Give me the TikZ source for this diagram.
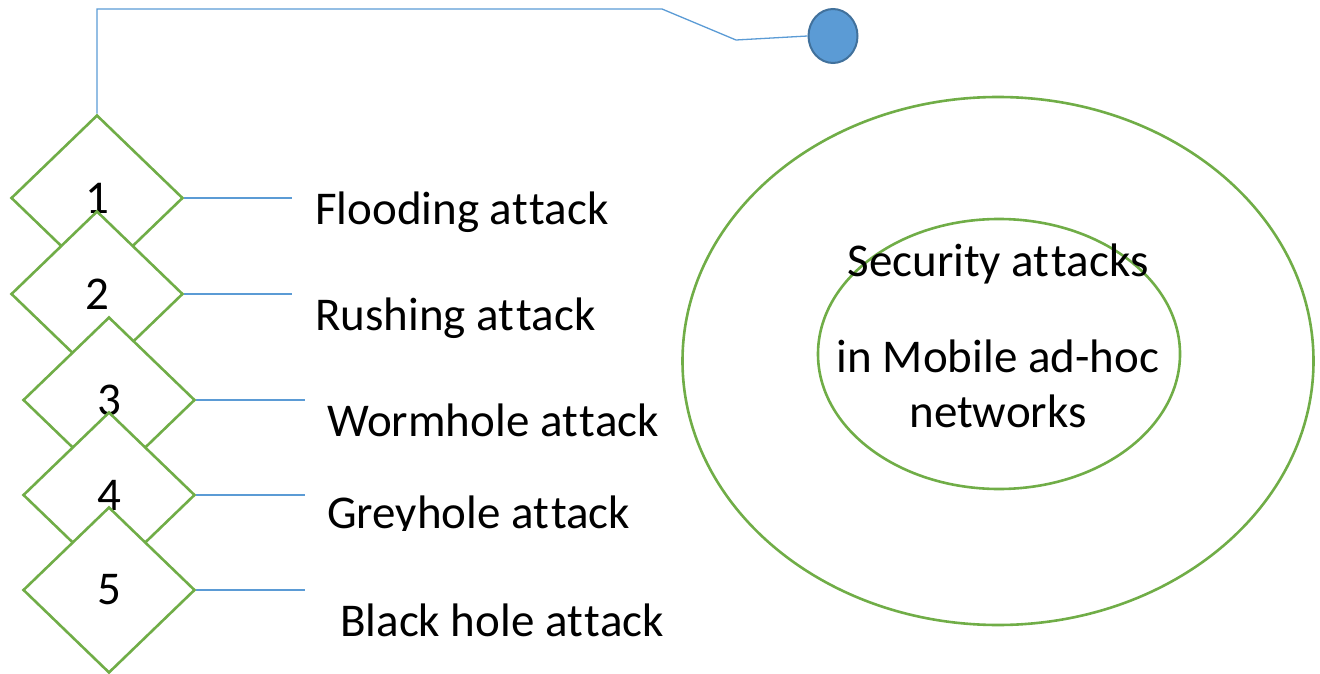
\documentclass[tikz,border=0pt]{standalone}
\usepackage{fontspec}
\setmainfont{Carlito}[Ligatures={NoCommon}]
\newcommand{\nolig}{\kern2pt }
\usetikzlibrary{shapes.geometric}
\definecolor{ogreen}{HTML}{70AD47}
\definecolor{oblue}{HTML}{5B9BD5}
\definecolor{odblue}{HTML}{41719C}
\tikzset{
  dia/.style={shape=diamond, draw=ogreen, line width=2.6pt, fill=white, minimum width=172pt, minimum height=166pt, inner sep=0pt, font=\fontsize{47}{56}\selectfont},
  conn/.style={draw=oblue, line width=1.3pt},
  lbl/.style={anchor=base west, inner sep=0pt, font=\fontsize{47}{56}\selectfont},
  ring/.style={shape=ellipse, draw=ogreen, line width=2.6pt, inner sep=0pt},
}
\begin{document}
\begin{tikzpicture}[x=1pt,y=-1pt]
\useasboundingbox (0,0) rectangle (1320,674);
% top connector and dot
\node[shape=ellipse, draw=odblue, fill=oblue, line width=2pt, minimum width=49pt, minimum height=54pt, inner sep=0pt] (dot) at (833,36) {};
\coordinate (c1) at (97,9);
\coordinate (c2) at (662,9);
\coordinate (c3) at (736,40);
% rings
\node[ring, minimum width=631pt, minimum height=528pt] (outer) at (998,361) {};
\node[ring, minimum width=362pt, minimum height=270pt] (inner) at (999,354) {};
\node[anchor=base, inner sep=0pt, font=\fontsize{47}{56}\selectfont] (t1) at (998,276) {Security at\nolig tacks};
\node[anchor=base, inner sep=0pt, font=\fontsize{47}{56}\selectfont] (t2) at (998,372) {in Mobile ad-hoc};
\node[anchor=base, inner sep=0pt, font=\fontsize{47}{56}\selectfont] (t3) at (998,427) {networks};
% diamonds
\node[dia] (d1) at (97,198) {1};
\node[dia] (d2) at (97,294) {2};
\node[dia] (d3) at (109,400) {3};
\node[dia] (d4) at (109,495) {4};
\node[dia] (d5) at (109,590) {5};
\draw[conn] (d1.north) -- (c1) -- (c2) -- (c3) -- (dot.west);
\coordinate (e1) at (292,198);
\coordinate (e2) at (292,294);
\coordinate (e3) at (305,400);
\coordinate (e4) at (305,495);
\coordinate (e5) at (305,590);
\draw[conn] (d1.east) -- (e1);
\draw[conn] (d2.east) -- (e2);
\draw[conn] (d3.east) -- (e3);
\draw[conn] (d4.east) -- (e4);
\draw[conn] (d5.east) -- (e5);
\node[lbl] (l1) at (315,224) {Flooding at\nolig tack};
\node[lbl] (l2) at (315,330) {Rushing at\nolig tack};
\node[lbl] (l3) at (327,436) {Wormhole at\nolig tack};
\begin{scope}
\clip (300,480) rectangle (700,530);
\node[lbl] (l4) at (327,528) {Greyhole at\nolig tack};
\end{scope}
\node[lbl] (l5) at (340,636) {Black hole at\nolig tack};
\end{tikzpicture}
\end{document}
